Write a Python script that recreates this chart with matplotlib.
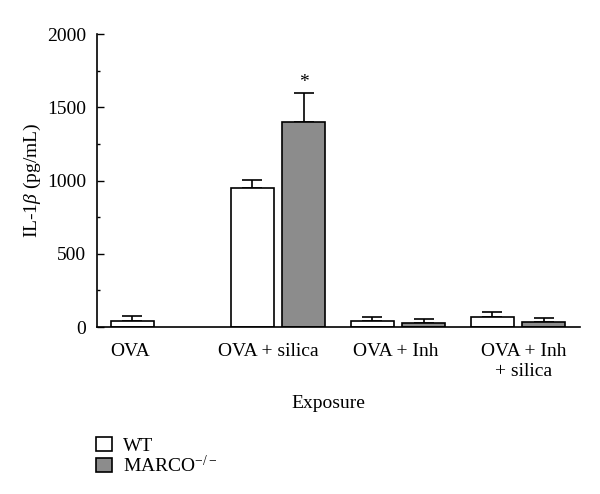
import numpy as np
import matplotlib.pyplot as plt
from matplotlib.patches import Patch

plt.rcParams['font.family'] = ['Liberation Serif', 'DejaVu Serif']
plt.rcParams['mathtext.fontset'] = 'custom'
plt.rcParams['mathtext.it'] = 'Liberation Serif:italic'
plt.rcParams['mathtext.rm'] = 'Liberation Serif'

groups = ["OVA", "OVA + silica", "OVA + Inh", "OVA + Inh\n+ silica"]
wt_mean = [39, 952, 39, 71]
wt_err = [34, 55, 32, 32]
marco_mean = [np.nan, 1397, 27, 36]
marco_err = [np.nan, 199, 28, 28]

x = np.arange(len(groups))
w = 0.36
off = 0.213

fig = plt.figure(figsize=(6, 4.94), dpi=100)
ax = fig.add_axes([0.1617, 0.338, 0.805, 0.593])

ekw = dict(elinewidth=1.2, capthick=1.2, ecolor='black')
ax.bar(x - off, wt_mean, w, color='white', edgecolor='black', linewidth=1.2, zorder=2)
ax.errorbar(x - off, wt_mean, yerr=[np.zeros(len(x)), wt_err], fmt='none',
            capsize=7.5, zorder=1, **ekw)
ax.bar(x + off, marco_mean, w, color='#8c8c8c', edgecolor='black', linewidth=1.2, zorder=2)
ax.errorbar(x + off, marco_mean, yerr=[np.zeros(len(x)), marco_err], fmt='none',
            capsize=7.5, zorder=1, **ekw)

# significance marker
ax.text(x[1] + off, marco_mean[1] + marco_err[1] + 15, '*', ha='center', va='bottom', fontsize=14)

ax.set_ylim(0, 2000)
ax.set_xlim(-0.508, 3.517)
ax.set_yticks([0, 500, 1000, 1500, 2000])
ax.set_yticks([250, 750, 1250, 1750], minor=True)
ax.tick_params(axis='y', direction='in', length=5, width=1, labelsize=14, pad=8)
ax.tick_params(axis='y', which='minor', direction='in', length=2.5, width=1)
ax.set_xticks([])
for s in ['top', 'right']:
    ax.spines[s].set_visible(False)
for s in ['left', 'bottom']:
    ax.spines[s].set_linewidth(1.2)

label_x = [x[0] - off - 0.02, x[1] - 0.08, x[2] - 0.02, x[3] + 0.05]
for lx, g in zip(label_x, groups):
    ax.text(lx, -110, g, ha='center', va='top', fontsize=14, linespacing=1.25)

ax.set_ylabel(r'IL-1$\mathit{\beta}$ (pg/mL)', fontsize=14, labelpad=3)
fig.text(328 / 600, 1 - 404 / 494, 'Exposure', ha='center', va='center', fontsize=14)

handles = [Patch(facecolor='white', edgecolor='black', linewidth=1.2),
           Patch(facecolor='#8c8c8c', edgecolor='black', linewidth=1.2)]
fig.legend(handles, ['WT', r'MARCO$^{-/-}$'], loc='upper left',
           bbox_to_anchor=(88 / 600, 1 - 429 / 494), frameon=False, fontsize=14,
           handlelength=0.82, handleheight=0.75, handletextpad=0.6, labelspacing=0.0,
           borderaxespad=0)

fig.savefig('out.png', dpi=100)
